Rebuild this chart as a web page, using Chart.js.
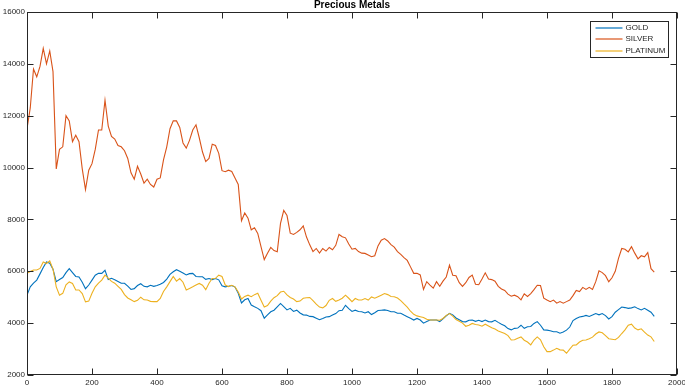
<!DOCTYPE html>
<html>
<head>
<meta charset="utf-8">
<title>Precious Metals</title>
<script src="https://cdn.jsdelivr.net/npm/chart.js@4.4.1/dist/chart.umd.min.js"></script>
<style>
  html, body { margin: 0; padding: 0; background: #fff; }
  #wrap { width: 685px; height: 388px; }
</style>
</head>
<body>
<div id="wrap"><canvas id="metalsChart" width="685" height="388"></canvas></div>
<script>
// values, one every 10 samples (sample 0 .. 1930)
const sampleStep = 10;
const chartTitle = 'Precious Metals';
const seriesNames = ['GOLD', 'SILVER', 'PLATINUM'];

const gold = [
    5080, 5400, 5540, 5660, 5900, 6150, 6360, 6310, 6080, 5600,
    5680, 5760, 5950, 6100, 5950, 5800, 5780, 5580, 5330, 5470,
    5660, 5850, 5920, 5920, 6040, 5680, 5730, 5670, 5610, 5540,
    5540, 5430, 5300, 5330, 5450, 5520, 5420, 5400, 5460, 5420,
    5450, 5500, 5570, 5700, 5880, 5980, 6060, 6000, 5930, 5860,
    5910, 5920, 5800, 5790, 5790, 5690, 5720, 5680, 5720, 5670,
    5440, 5400, 5420, 5450, 5390, 5150, 4780, 4900, 4950, 4700,
    4630, 4570, 4480, 4190, 4320, 4440, 4500, 4630, 4760, 4640,
    4510, 4570, 4450, 4500, 4390, 4320, 4310, 4260, 4250, 4190,
    4130, 4180, 4240, 4250, 4310, 4370, 4480, 4500, 4690, 4560,
    4450, 4500, 4450, 4440, 4390, 4440, 4330, 4400, 4490, 4500,
    4510, 4490, 4440, 4440, 4380, 4380, 4310, 4250, 4190, 4120,
    4180, 4120, 4000, 4060, 4120, 4120, 4120, 4060, 4170, 4280,
    4380, 4320, 4200, 4130, 4060, 4050, 4110, 4120, 4070, 4110,
    4060, 4120, 4060, 4050, 4110, 4030, 3960, 3900, 3790, 3740,
    3800, 3810, 3920, 3800, 3860, 3870, 3990, 4060, 3920, 3740,
    3730, 3710, 3670, 3670, 3610, 3660, 3730, 3850, 4100, 4180,
    4240, 4260, 4300, 4260, 4310, 4370, 4320, 4370, 4290, 4160,
    4250, 4420, 4520, 4620, 4600, 4570, 4590, 4630, 4560, 4510,
    4570, 4500, 4420, 4260
];

const silver = [
    11500, 12300, 13800, 13500, 13900, 14600, 14000, 14500, 13700, 9950,
    10700, 10800, 12000, 11800, 11000, 11250, 11000, 9950, 9150, 9900,
    10150, 10700, 11450, 11450, 12600, 11600, 11200, 11100, 10850, 10800,
    10650, 10350, 9800, 9550, 10050, 9750, 9400, 9550, 9350, 9250,
    9550, 9600, 10300, 10800, 11500, 11800, 11800, 11550, 10950, 10750,
    11050, 11450, 11650, 11150, 10600, 10230, 10350, 10900, 10850, 10550,
    9880, 9840, 9900, 9850, 9600, 9350, 7950, 8250, 8050, 7600,
    7680, 7460, 6950, 6450, 6700, 6920, 6800, 6750, 7850, 8350,
    8150, 7470, 7420, 7500, 7600, 7750, 7320, 7020, 6760, 6880,
    6700, 6880, 6780, 6920, 6830, 7000, 7420, 7330, 7290, 7050,
    6850, 6880, 6760, 6700, 6690, 6630, 6560, 6600, 6980, 7200,
    7260, 7170, 7030, 6930, 6760, 6650, 6530, 6420, 6170, 5920,
    5920, 5860, 5300, 5600, 5470, 5350, 5600, 5420, 5620, 5780,
    6240, 5850, 5830, 5560, 5420, 5560, 5760, 5850, 5500, 5480,
    5700, 5940, 5700, 5680, 5620, 5420, 5320, 5260, 5120, 5040,
    5080, 5020, 4900, 5130, 5030, 5140, 5290, 5460, 5450, 4960,
    4890, 4830, 4890, 4770, 4830, 4770, 4830, 4890, 5060, 5260,
    5220, 5380, 5300, 5380, 5300, 5600, 6020, 5950, 5830, 5600,
    5750, 6000, 6500, 6880, 6850, 6750, 6950, 6700, 6480, 6600,
    6560, 6720, 6100, 5970
];

const platinum = [
    5920, 5990, 6050, 6050, 6110, 6360, 6300, 6400, 6080, 5400,
    5080, 5150, 5480, 5590, 5530, 5280, 5280, 5140, 4820, 4850,
    5150, 5400, 5540, 5660, 5850, 5740, 5610, 5540, 5420, 5300,
    5100, 4970, 4900, 4830, 4880, 5000, 4900, 4890, 4840, 4830,
    4830, 4950, 5220, 5400, 5600, 5800, 5620, 5720, 5580, 5280,
    5340, 5400, 5470, 5530, 5460, 5290, 5540, 5720, 5730, 5850,
    5800, 5470, 5410, 5460, 5400, 5200, 4930, 5030, 5080, 5020,
    5100, 5150, 4880, 4620, 4680, 4850, 4980, 5060, 5200, 5230,
    5090, 4990, 4930, 4830, 4850, 4960, 4980, 4990, 4870, 4730,
    4620, 4590, 4680, 4880, 4950, 4840, 4890, 4960, 5080, 4960,
    4830, 4950, 4890, 4890, 4950, 4890, 5010, 4960, 5020, 5080,
    5140, 5100, 5030, 5020, 4970, 4870, 4740, 4620, 4460, 4340,
    4280, 4250, 4220, 4150, 4120, 4120, 4120, 4110, 4180, 4300,
    4370, 4270, 4140, 4070, 4000, 3880, 3920, 3990, 3950, 3930,
    3880, 3960, 3890, 3820, 3770, 3700, 3650, 3600, 3520, 3350,
    3360, 3420, 3470, 3340, 3270, 3160, 3350, 3470, 3360, 3090,
    2900, 2900, 2960, 3030, 2970, 2960, 2840, 3000, 3150, 3160,
    3270, 3340, 3350, 3400, 3460, 3580, 3660, 3630, 3520, 3400,
    3380, 3360, 3450, 3600, 3740, 3920, 3960, 3810, 3740, 3780,
    3650, 3540, 3470, 3290
];

const xRange = [0, 2000];
const yRange = [2000, 16000];
const xTickStep = 200;
const yTickStep = 2000;

var colors = ['#0072BD', '#D95319', '#EDB120'];
var fontFamily = "'Liberation Sans', Arial, Helvetica, sans-serif";
var axisColor = '#262626';

function toPoints(values) {
    return values.map((v, i) => ({ x: i * sampleStep, y: v }));
}

// MATLAB-like box: full frame, inward ticks on every side, title over the axes, legend in the corner
var boxPlugin = {
    id: 'matlabBox',
    afterDraw: function(chart) {
        var ctx = chart.ctx;
        var area = chart.chartArea;
        var xs = chart.scales.x, ys = chart.scales.y;
        var L = Math.round(area.left) + 0.5;
        var R = Math.round(area.right) - 0.5;
        var T = Math.round(area.top) + 0.5;
        var B = Math.round(area.bottom) - 0.5;
        var tickLen = 6;

        ctx.save();
        ctx.strokeStyle = axisColor;
        ctx.lineWidth = 1;
        ctx.strokeRect(L, T, R - L, B - T);

        ctx.beginPath();
        xs.ticks.forEach(t => {
            var px = Math.round(xs.getPixelForValue(t.value)) + 0.5;
            ctx.moveTo(px, B); ctx.lineTo(px, B - tickLen);
            ctx.moveTo(px, T); ctx.lineTo(px, T + tickLen);
        });
        ys.ticks.forEach(t => {
            var py = Math.round(ys.getPixelForValue(t.value)) + 0.5;
            ctx.moveTo(L, py); ctx.lineTo(L + tickLen, py);
            ctx.moveTo(R, py); ctx.lineTo(R - tickLen, py);
        });
        ctx.stroke();

        // title, centred on the axes box
        ctx.fillStyle = '#000';
        ctx.font = 'bold 10px ' + fontFamily;
        ctx.textAlign = 'center';
        ctx.textBaseline = 'middle';
        ctx.fillText(chartTitle, (area.left + area.right) / 2, area.top - 7);

        // legend
        ctx.font = '8px ' + fontFamily;
        var datasets = chart.data.datasets;
        var textW = Math.max.apply(null, datasets.map(d => ctx.measureText(d.label).width));
        var boxW = Math.round(35 + textW + 3);
        var boxH = 36;
        var bx = Math.round(R - 9 - boxW) + 0.5;
        var by = Math.round(T + 8) + 0.5;
        ctx.fillStyle = '#fff';
        ctx.fillRect(bx, by, boxW, boxH);
        ctx.strokeStyle = axisColor;
        ctx.strokeRect(bx, by, boxW, boxH);
        ctx.textAlign = 'left';
        datasets.forEach((d, i) => {
            var ly = Math.round(by + 6.5 + i * 11.3);
            ctx.strokeStyle = colors[i];
            ctx.lineWidth = 1.2;
            ctx.beginPath();
            ctx.moveTo(bx + 5, ly);
            ctx.lineTo(bx + 32, ly);
            ctx.stroke();
            ctx.fillStyle = axisColor;
            ctx.fillText(d.label, bx + 35, ly);
        });
        ctx.restore();
    }
};

var allSeries = [gold, silver, platinum];
var ctx = document.getElementById('metalsChart').getContext('2d');
var metalsChart = new Chart(ctx, {
    type: 'line',
    data: {
        datasets: allSeries.map((values, i) => ({
            label: seriesNames[i],
            data: toPoints(values),
            borderColor: colors[i],
            backgroundColor: colors[i],
            borderWidth: 1.1,
            pointRadius: 0,
            tension: 0,
            fill: false,
            order: allSeries.length - i
        }))
    },
    options: {
        responsive: false,
        animation: false,
        events: [],
        layout: { padding: { left: 0, right: 0, top: 12, bottom: 0 } },
        plugins: {
            legend: { display: false },
            tooltip: { enabled: false },
            title: { display: false }
        },
        scales: {
            x: {
                type: 'linear',
                min: xRange[0],
                max: xRange[1],
                offset: false,
                grid: { display: false, drawTicks: false },
                border: { display: false },
                ticks: {
                    stepSize: xTickStep,
                    padding: 3,
                    color: axisColor,
                    maxRotation: 0,
                    font: { family: fontFamily, size: 8 },
                    callback: v => String(v)
                },
                afterFit: function(scale) {
                    scale.height = 13;
                    scale.paddingLeft = 0;
                    scale.paddingRight = 8;
                }
            },
            y: {
                type: 'linear',
                min: yRange[0],
                max: yRange[1],
                grid: { display: false, drawTicks: false },
                border: { display: false },
                ticks: {
                    stepSize: yTickStep,
                    padding: 2,
                    color: axisColor,
                    font: { family: fontFamily, size: 8 },
                    callback: v => String(v)
                },
                afterFit: function(scale) {
                    scale.width = 27;
                    scale.paddingTop = 0;
                    scale.paddingBottom = 0;
                }
            }
        }
    },
    plugins: [boxPlugin]
});
</script>
</body>
</html>
